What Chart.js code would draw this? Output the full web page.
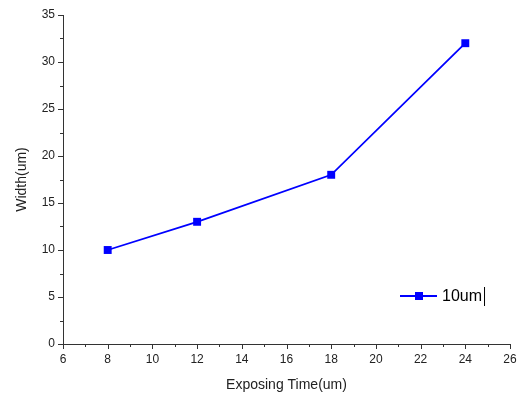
<!DOCTYPE html>
<html>
<head>
<meta charset="utf-8">
<script src="https://cdn.jsdelivr.net/npm/chart.js@4/dist/chart.umd.min.js"></script>
<style>
  html, body { margin: 0; padding: 0; background: #fff; }
  #wrap { width: 522px; height: 398px; }
</style>
</head>
<body>
<div id="wrap"><canvas id="widthChart" width="522" height="398"></canvas></div>
<script>
// data
const exposingTime = [8, 12, 18, 24];
const widthValues = [10, 13, 18, 32];
const seriesLabel = '10um';
const xTicks = [6, 8, 10, 12, 14, 16, 18, 20, 22, 24, 26];
const yTicks = [0, 5, 10, 15, 20, 25, 30, 35];

const axisColor = '#333';
const lineBlue = '#0000ff';

// outward major/minor ticks and the small legend box
const originTicks = {
    id: 'originTicks',
    afterDraw(chart) {
        const ctx = chart.ctx;
        const xs = chart.scales.x, ys = chart.scales.y;
        ctx.save();
        ctx.strokeStyle = axisColor;
        ctx.lineWidth = 1;
        ctx.beginPath();
        for (let v = xs.min; v <= xs.max; v += 1) {
            const px = Math.round(xs.getPixelForValue(v)) + 0.5;
            const len = (v % 2 === 0) ? 5 : 3;
            ctx.moveTo(px, xs.top);
            ctx.lineTo(px, xs.top + len);
        }
        for (let v = ys.min; v <= ys.max; v += 2.5) {
            const py = Math.round(ys.getPixelForValue(v)) + 0.5;
            const len = (v % 5 === 0) ? 5 : 3;
            ctx.moveTo(ys.right, py);
            ctx.lineTo(ys.right - len, py);
        }
        ctx.stroke();

        // legend
        const lx = 400, ly = 296;
        ctx.strokeStyle = lineBlue;
        ctx.lineWidth = 1.8;
        ctx.beginPath();
        ctx.moveTo(lx, ly);
        ctx.lineTo(lx + 37, ly);
        ctx.stroke();
        ctx.fillStyle = lineBlue;
        ctx.fillRect(lx + 15, ly - 4, 8, 8);
        ctx.fillStyle = '#000';
        ctx.font = '16px "Liberation Sans", Arial, sans-serif';
        ctx.textBaseline = 'middle';
        ctx.fillText(seriesLabel, lx + 42, ly + 1);
        const tw = ctx.measureText(seriesLabel).width;
        ctx.strokeStyle = '#000';
        ctx.lineWidth = 1;
        ctx.beginPath();
        ctx.moveTo(lx + 42 + tw + 2.5, ly - 9);
        ctx.lineTo(lx + 42 + tw + 2.5, ly + 10);
        ctx.stroke();
        ctx.restore();
    }
};

new Chart(document.getElementById('widthChart'), {
    type: 'line',
    data: {
        datasets: [{
            label: seriesLabel,
            data: exposingTime.map((t, i) => ({ x: t, y: widthValues[i] })),
            borderColor: lineBlue,
            backgroundColor: lineBlue,
            borderWidth: 1.8,
            pointStyle: 'rect',
            pointRadius: 5.6,
            pointBorderWidth: 0,
            tension: 0
        }]
    },
    options: {
        responsive: false,
        animation: false,
        devicePixelRatio: 1,
        layout: { padding: { top: 15, right: 0, left: 0, bottom: 0 } },
        plugins: {
            legend: { display: false },
            tooltip: { enabled: false }
        },
        scales: {
            x: {
                type: 'linear',
                min: 6,
                max: 26,
                afterBuildTicks: (s) => { s.ticks = xTicks.map(v => ({ value: v })); },
                afterFit: (s) => {
                    s.height = 54;
                    s.paddingRight = 12;
                    s.paddingLeft = 0;
                },
                grid: { display: false, drawTicks: false },
                border: { display: true, color: axisColor, width: 1 },
                ticks: {
                    padding: 8,
                    color: '#222',
                    font: { family: '"Liberation Sans", Arial, sans-serif', size: 12 },
                    maxRotation: 0
                },
                title: {
                    display: true,
                    text: 'Exposing Time(um)',
                    color: '#222',
                    font: { family: '"Liberation Sans", Arial, sans-serif', size: 14 },
                    padding: { top: 6 }
                }
            },
            y: {
                type: 'linear',
                min: 0,
                max: 35,
                afterBuildTicks: (s) => { s.ticks = yTicks.map(v => ({ value: v })); },
                afterFit: (s) => {
                    s.width = 63;
                    s.paddingTop = 0;
                    s.paddingBottom = 0;
                },
                grid: { display: false, drawTicks: false },
                border: { display: true, color: axisColor, width: 1 },
                ticks: {
                    padding: 8,
                    color: '#222',
                    font: { family: '"Liberation Sans", Arial, sans-serif', size: 12 }
                },
                title: {
                    display: true,
                    text: 'Width(um)',
                    color: '#222',
                    font: { family: '"Liberation Sans", Arial, sans-serif', size: 14 },
                    padding: { bottom: 0, top: 14 }
                }
            }
        }
    },
    plugins: [originTicks]
});
</script>
</body>
</html>
